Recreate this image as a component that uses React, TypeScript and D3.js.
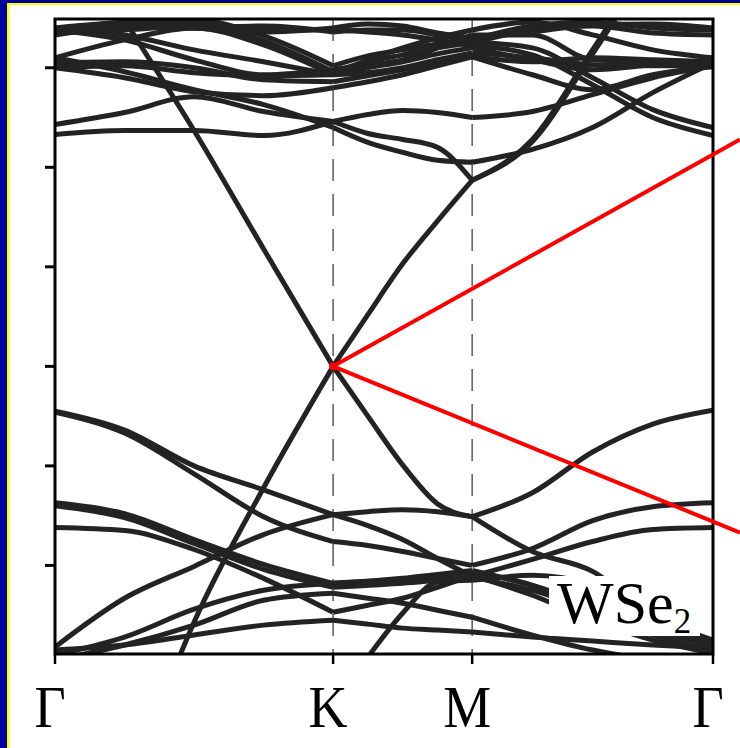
import React from 'react';
import * as d3 from 'd3';

// High-symmetry path Γ–K–M–Γ (in units of |ΓK|)
const pathLabels = ['Γ', 'K', 'M', 'Γ'];
const pathNodes = [0, 1, 1.5, 2.366];
// k-points at which every band is sampled
const kSamples = [0, 0.25, 0.5, 0.75, 1, 1.125, 1.25, 1.375, 1.5, 1.7165, 1.933, 2.1495, 2.366];
// segments of the path, as index ranges into kSamples
const segments = [[0, 4], [4, 8], [8, 12]];

const energyTicks = [-2, -1, 0, 1, 2, 3];
const energyDomain = [-2.89, 3.49];

// Energies (eV) of the bands above the Dirac point
const diracUpper = [4.59, 3.48, 2.37, 1.18, 0, 0.52, 1.03, 1.46, 1.87, 2.28, 3.18, 4.08, 4.69];
const cond2 = [2.33, 2.37, 2.37, 2.32, 2.46, 2.53, 2.57, 2.55, 2.5, 2.56, 2.73, 2.9, 3.02];
const cond3 = [2.43, 2.55, 2.71, 2.56, 2.46, 2.34, 2.28, 2.2, 1.87, 2.26, 3.14, 4.05, 4.65];
const cond4 = [3.1, 2.96, 2.78, 2.63, 2.4, 2.25, 2.15, 2.07, 2.05, 2.18, 2.4, 2.75, 3.05];
const cond5 = [3.38, 3.42, 3.4, 3.42, 3.36, 3.38, 3.38, 3.33, 3.26, 3.2, 2.9, 2.58, 2.4];
const cond6 = [3.36, 3.38, 3.42, 3.38, 3.38, 3.36, 3.33, 3.28, 3.22, 3.13, 2.83, 2.5, 2.32];
const cond7 = [3.38, 3.46, 3.48, 3.32, 3.02, 3.12, 3.18, 3.24, 3.28, 3.42, 3.46, 3.4, 3.38];
const cond8 = [3.1, 3.28, 3.4, 3.23, 2.93, 3.0, 3.06, 3.14, 3.2, 3.08, 2.98, 3.03, 3.08];
const cond9 = [3.05, 3.06, 3.0, 2.88, 2.86, 2.92, 2.98, 3.05, 3.11, 3.06, 3.1, 3.08, 3.06];
const cond10 = [3.0, 2.9, 2.76, 2.72, 2.8, 2.86, 2.93, 3.02, 3.11, 2.93, 2.78, 2.93, 3.01];
const cond11 = [3.38, 3.28, 3.08, 2.93, 2.98, 3.03, 3.08, 3.2, 3.33, 3.33, 3.08, 3.06, 3.06];
const cond12 = [3.4, 3.33, 3.18, 3.06, 2.93, 3.08, 3.2, 3.3, 3.38, 3.46, 3.33, 3.18, 3.1];
const cond13 = [3.33, 3.42, 3.45, 3.27, 2.96, 3.06, 3.13, 3.2, 3.25, 3.38, 3.42, 3.35, 3.33];
const cond14 = [3.0, 3.02, 2.95, 2.92, 2.93, 2.95, 3.0, 3.08, 3.15, 3.1, 3.03, 3.02, 3.02];
const cond15 = [3.4, 3.45, 3.4, 3.36, 3.4, 3.44, 3.42, 3.35, 3.3, 3.36, 3.43, 3.44, 3.4];

// Energies (eV) of the bands below the Dirac point
const diracLower = [-6.37, -4.36, -2.57, -1.22, 0, -0.5, -0.99, -1.38, -1.51, -1.27, -0.86, -0.58, -0.44];
const val1 = [-0.45, -0.64, -1.0, -1.24, -1.49, -1.46, -1.44, -1.46, -1.51, -1.86, -2.06, -2.5, -2.75];
const val2 = [-0.46, -0.67, -1.08, -1.51, -1.76, -1.8, -1.86, -1.93, -2.0, -1.83, -1.55, -1.41, -1.37];
const val3 = [-2.82, -2.33, -2.01, -1.69, -1.49, -1.6, -1.74, -1.93, -2.11, -1.94, -1.76, -1.64, -1.62];
const val4 = [-1.37, -1.48, -1.74, -1.99, -2.18, -2.16, -2.13, -2.09, -2.05, -2.2, -2.4, -2.62, -2.77];
const val5 = [-1.62, -1.65, -1.84, -2.13, -2.47, -2.4, -2.33, -2.22, -2.1, -2.3, -2.55, -2.75, -2.88];
const val6 = [-2.85, -2.8, -2.7, -2.6, -2.55, -2.59, -2.63, -2.65, -2.67, -2.72, -2.76, -2.8, -2.83];
const val7 = [-2.9, -2.72, -2.44, -2.25, -2.18, -2.16, -2.15, -2.11, -2.07, -2.2, -2.45, -2.7, -2.85];
const val8 = [-2.95, -2.8, -2.6, -2.35, -2.28, -2.33, -2.38, -2.45, -2.52, -2.7, -2.85, -2.95, -3.0];
const val9 = [-6.37, -5.36, -4.36, -3.95, -3.4, -2.92, -2.48, -2.17, -2.15, -2.1, -2.2, -2.55, -2.85];
const val10 = [-1.4, -1.52, -1.78, -2.04, -2.22, -2.2, -2.18, -2.15, -2.12, -2.25, -2.45, -2.66, -2.8];

const bands = [
  diracUpper, cond2, cond3, cond4, cond5, cond6, cond7, cond8, cond9, cond10, cond11, cond12,
  cond13, cond14, cond15,
  diracLower, val1, val2, val3, val4, val5, val6, val7, val8, val9, val10,
];

// Dirac point and the ends of the two highlight rays
const diracPoint = { k: 1, e: 0 };
const rayEnds = [{ k: 2.463, e: 2.28 }, { k: 2.463, e: -1.67 }];

const W = 740;
const H = 748;
const plot = { left: 55, right: 713, top: 19, bottom: 654 };

export default function App() {
  const x = d3.scaleLinear().domain([0, pathNodes[3]]).range([plot.left, plot.right]);
  const y = d3.scaleLinear().domain(energyDomain).range([plot.bottom, plot.top]);

  const segPath = (band: number[], [a, b]: number[]) => {
    const pts: [number, number][] = [];
    for (let i = a; i <= b; i++) pts.push([x(kSamples[i]), y(band[i])]);
    return d3.line().curve(d3.curveMonotoneX)(pts) || '';
  };

  const serif = '"Liberation Serif", "Times New Roman", serif';

  return (
    <svg
      width={W}
      height={H}
      viewBox={`0 0 ${W} ${H}`}
      style={{ position: 'absolute', left: 0, top: 0, display: 'block' }}
    >
      <defs>
        <clipPath id="plot-clip">
          <rect x={plot.left} y={plot.top} width={plot.right - plot.left} height={plot.bottom - plot.top} />
        </clipPath>
      </defs>
      <rect x={0} y={0} width={W} height={H} fill="#00009c" />
      <rect x={7} y={3} width={W} height={H} fill="#ffff00" />
      <rect x={9.5} y={5} width={W} height={H} fill="#ffffff" />

      {/* high-symmetry guide lines */}
      {[pathNodes[1], pathNodes[2]].map((k, i) => (
        <line
          key={i}
          x1={x(k)}
          x2={x(k)}
          y1={plot.top}
          y2={plot.bottom}
          stroke="#5a5a5a"
          strokeWidth={1.5}
          strokeDasharray="22 13"
        />
      ))}

      {/* bands */}
      <g clipPath="url(#plot-clip)" fill="none" stroke="#232323" strokeWidth={5} strokeLinejoin="round">
        {bands.map((band, bi) =>
          segments.map((seg, si) => <path key={`${bi}-${si}`} d={segPath(band, seg)} />)
        )}
      </g>

      {/* frame and ticks */}
      <rect
        x={plot.left}
        y={plot.top}
        width={plot.right - plot.left}
        height={plot.bottom - plot.top}
        fill="none"
        stroke="#000"
        strokeWidth={3}
      />
      {energyTicks.map((t) => (
        <line key={t} x1={plot.left - 10} x2={plot.left} y1={y(t)} y2={y(t)} stroke="#000" strokeWidth={3} />
      ))}
      {pathNodes.map((k, i) => (
        <line key={i} x1={x(k)} x2={x(k)} y1={plot.bottom} y2={plot.bottom + 10} stroke="#000" strokeWidth={2.5} />
      ))}
      {pathNodes.map((k, i) => (
        <text
          key={i}
          transform={`translate(${x(k) - 5},727) scale(0.9,1)`}
          textAnchor="middle"
          fontFamily={serif}
          fontSize={60}
          fill="#000"
        >
          {pathLabels[i]}
        </text>
      ))}

      {/* material label */}
      <rect x={549} y={576} width={151} height={60} fill="#fff" />
      <text x={557} y={623} fontFamily={serif} fontSize={60} fill="#000">
        WSe<tspan fontSize={35} dy={10}>2</tspan>
      </text>

      {/* zoom rays from the Dirac point */}
      {rayEnds.map((r, i) => (
        <line
          key={i}
          x1={x(diracPoint.k)}
          y1={y(diracPoint.e)}
          x2={x(r.k)}
          y2={y(r.e)}
          stroke="#ff0000"
          strokeWidth={4}
        />
      ))}
      <circle cx={x(diracPoint.k)} cy={y(diracPoint.e)} r={4} fill="#ff0000" />

      {/* outer border strips */}
      <rect x={0} y={0} width={W} height={3} fill="#00009c" />
      <rect x={7} y={3} width={W} height={2} fill="#ffff00" />
    </svg>
  );
}
